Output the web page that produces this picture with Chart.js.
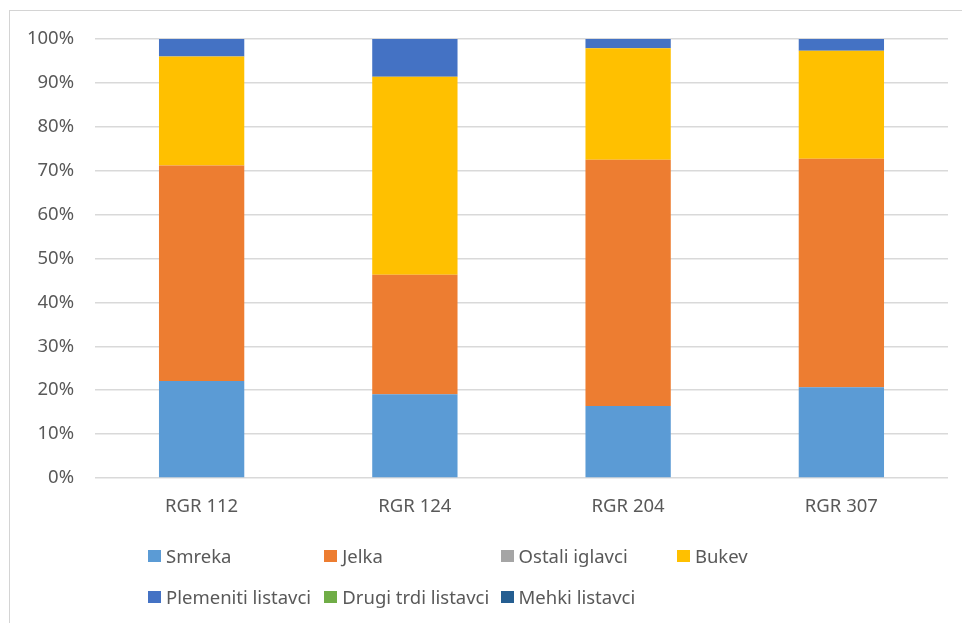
<!DOCTYPE html>
<html lang="sl">
<head>
<meta charset="utf-8">
<title>Drevesna sestava po RGR</title>
<script src="https://cdn.jsdelivr.net/npm/chart.js@4.4.1/dist/chart.umd.min.js"></script>
<style>
  html, body { margin: 0; padding: 0; background: #fff; }
  body { width: 962px; height: 623px; position: relative; overflow: hidden; font-family: 'Noto Sans', sans-serif; }
  .frame { position: absolute; left: 9px; top: 10px; width: 1000px; height: 700px; border-left: 1px solid #d4d4d4; border-top: 1px solid #d4d4d4; }
  #chartWrap { position: absolute; left: 0; top: 0; width: 962px; height: 623px; }
  .legend { position: absolute; left: 148px; top: 545px; width: 720px; display: grid; grid-template-columns: repeat(4, 176.3px); row-gap: 19px; }
  .legend-item { display: flex; align-items: center; font-size: 18.5px; line-height: 22px; color: #595959; white-space: nowrap; }
  .legend-item i { display: inline-block; width: 13px; height: 12px; margin-right: 5px; }
</style>
</head>
<body>
<div class="frame"></div>
<div id="chartWrap"><canvas id="sestava" width="962" height="623" aria-label="Delež drevesnih vrst po RGR"></canvas></div>
<div class="legend" id="sestavaLegend"></div>
<script>
const categories = ['RGR 112', 'RGR 124', 'RGR 204', 'RGR 307'];

const seriesNames = ['Smreka', 'Jelka', 'Ostali iglavci', 'Bukev', 'Plemeniti listavci', 'Drugi trdi listavci', 'Mehki listavci'];
const seriesColors = ['#5B9BD5', '#ED7D31', '#A5A5A5', '#FFC000', '#4472C4', '#70AD47', '#255E91'];

// shares in % per category
const smreka = [22.1, 19.1, 16.4, 20.7];
const jelka = [49.1, 27.2, 56.1, 52.0];
const ostaliIglavci = [0, 0, 0, 0];
const bukev = [24.8, 45.1, 25.4, 24.6];
const plemenitiListavci = [4.0, 8.6, 2.1, 2.7];
const drugiTrdiListavci = [0, 0, 0, 0];
const mehkiListavci = [0, 0, 0, 0];

const tickValues = [0, 10, 20, 30, 40, 50, 60, 70, 80, 90, 100];

const seriesValues = [smreka, jelka, ostaliIglavci, bukev, plemenitiListavci, drugiTrdiListavci, mehkiListavci];

const FONT = "'Noto Sans', sans-serif";
const TEXT = '#595959';

const datasets = seriesNames.map((name, i) => ({
  label: name,
  data: seriesValues[i],
  backgroundColor: seriesColors[i],
  borderWidth: 0,
  barPercentage: 0.4,
  categoryPercentage: 1,
}));

new Chart(document.getElementById('sestava'), {
  type: 'bar',
  data: { labels: categories, datasets },
  options: {
    responsive: false,
    animation: false,
    layout: { padding: { left: 0, right: 14, top: 39, bottom: 85 } },
    plugins: { legend: { display: false }, tooltip: { enabled: false } },
    scales: {
      x: {
        stacked: true,
        grid: { display: false, drawTicks: false },
        border: { display: false },
        ticks: { color: TEXT, font: { family: FONT, size: 18.5 }, padding: 18 },
        afterFit(scale) { scale.height = 60; },
      },
      y: {
        stacked: true,
        min: 0,
        max: 100,
        afterBuildTicks(scale) { scale.ticks = tickValues.map((value) => ({ value })); },
        grid: { color: '#D9D9D9', lineWidth: 1.5, drawTicks: false },
        border: { display: false },
        ticks: {
          color: TEXT,
          font: { family: FONT, size: 18.5 },
          padding: 21,
          callback: (v) => `${v}%`,
        },
        afterFit(scale) { scale.width = 95; },
      },
    },
  },
});

document.getElementById('sestavaLegend').innerHTML = seriesNames
  .map((name, i) => `<div class="legend-item"><i style="background:${seriesColors[i]}"></i>${name}</div>`)
  .join('');
</script>
</body>
</html>
